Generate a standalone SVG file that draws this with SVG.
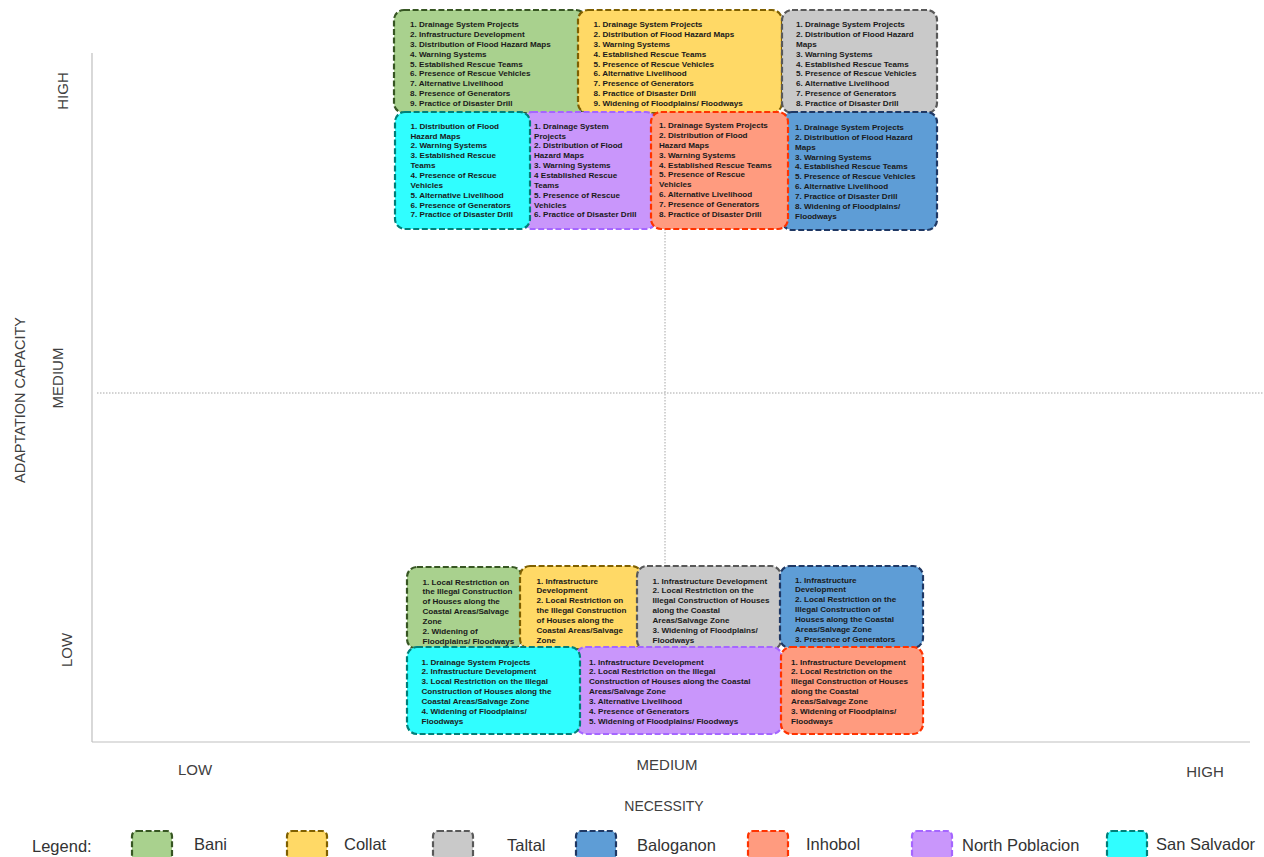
<svg xmlns="http://www.w3.org/2000/svg" width="1264" height="857" viewBox="0 0 1264 857">
<style>
  .box{stroke-width:2.2;stroke-dasharray:6 2.6;}
  .bani{fill:#a9d18e;stroke:#375623;}
  .collat{fill:#ffd966;stroke:#7f6000;}
  .taltal{fill:#c9c9c9;stroke:#595959;}
  .balog{fill:#5e9dd6;stroke:#1f3864;}
  .inhobol{fill:#ff9b7f;stroke:#ff3300;}
  .np{fill:#c996fb;stroke:#a566ff;}
  .ss{fill:#30feff;stroke:#00807a;}
  .t{font-family:"Liberation Sans",Arial,sans-serif;font-weight:bold;font-size:8.1px;fill:#1a1a1a;}
  .ax{font-family:"Liberation Sans",Arial,sans-serif;font-size:15px;fill:#404040;}
  .lg{font-family:"Liberation Sans",Arial,sans-serif;font-size:16.5px;fill:#333333;}
  .axis{stroke:#bfbfbf;stroke-width:1.2;fill:none;}
  .dot{stroke:#a6a6a6;stroke-width:1;stroke-dasharray:1.5 1.5;fill:none;}
</style>

<g id="axes">
  <line class="axis" x1="92" y1="53" x2="92" y2="742"/>
  <line class="axis" x1="92" y1="742" x2="1250" y2="742"/>
  <line class="dot" x1="97" y1="393" x2="1264" y2="393"/>
  <line class="dot" x1="665" y1="112" x2="665" y2="568"/>
  <text class="ax" transform="translate(68,91) rotate(-90)" text-anchor="middle">HIGH</text>
  <text class="ax" transform="translate(63,378) rotate(-90)" text-anchor="middle">MEDIUM</text>
  <text class="ax" transform="translate(72,650) rotate(-90)" text-anchor="middle">LOW</text>
  <text class="ax" transform="translate(25,400) rotate(-90)" text-anchor="middle" style="font-size:14.5px">ADAPTATION CAPACITY</text>
  <text class="ax" x="195" y="775" text-anchor="middle">LOW</text>
  <text class="ax" x="667" y="770" text-anchor="middle">MEDIUM</text>
  <text class="ax" x="1205" y="777" text-anchor="middle">HIGH</text>
  <text class="ax" x="664" y="811" text-anchor="middle" style="font-size:14px">NECESSITY</text>
</g>

<g id="high-bani">
  <rect class="box bani" x="394" y="10" width="192" height="103" rx="10"/>
  <text class="t" x="410" y="27"><tspan x="410" dy="0">1. Drainage System Projects</tspan><tspan x="410" dy="9.88">2. Infrastructure Development</tspan><tspan x="410" dy="9.88">3. Distribution of Flood Hazard Maps</tspan><tspan x="410" dy="9.88">4. Warning Systems</tspan><tspan x="410" dy="9.88">5. Established Rescue Teams</tspan><tspan x="410" dy="9.88">6. Presence of Rescue Vehicles</tspan><tspan x="410" dy="9.88">7. Alternative Livelihood</tspan><tspan x="410" dy="9.88">8. Presence of Generators</tspan><tspan x="410" dy="9.88">9. Practice of Disaster Drill</tspan></text>
</g>
<g id="high-collat">
  <rect class="box collat" x="578" y="10" width="204" height="103" rx="10"/>
  <text class="t" x="593.5" y="27"><tspan x="593.5" dy="0">1. Drainage System Projects</tspan><tspan x="593.5" dy="9.88">2. Distribution of Flood Hazard Maps</tspan><tspan x="593.5" dy="9.88">3. Warning Systems</tspan><tspan x="593.5" dy="9.88">4. Established Rescue Teams</tspan><tspan x="593.5" dy="9.88">5. Presence of Rescue Vehicles</tspan><tspan x="593.5" dy="9.88">6. Alternative Livelihood</tspan><tspan x="593.5" dy="9.88">7. Presence of Generators</tspan><tspan x="593.5" dy="9.88">8. Practice of Disaster Drill</tspan><tspan x="593.5" dy="9.88">9. Widening of Floodplains/ Floodways</tspan></text>
</g>
<g id="high-taltal">
  <rect class="box taltal" x="782" y="10" width="155" height="103" rx="10"/>
  <text class="t" x="796" y="27"><tspan x="796" dy="0">1. Drainage System Projects</tspan><tspan x="796" dy="9.88">2. Distribution of Flood Hazard</tspan><tspan x="796" dy="9.88">Maps</tspan><tspan x="796" dy="9.88">3. Warning Systems</tspan><tspan x="796" dy="9.88">4. Established Rescue Teams</tspan><tspan x="796" dy="9.88">5. Presence of Rescue Vehicles</tspan><tspan x="796" dy="9.88">6. Alternative Livelihood</tspan><tspan x="796" dy="9.88">7. Presence of Generators</tspan><tspan x="796" dy="9.88">8. Practice of Disaster Drill</tspan></text>
</g>

<g id="high-north-poblacion">
  <rect class="box np" x="522" y="112" width="134" height="117" rx="10"/>
  <text class="t" x="534" y="128.7"><tspan x="534" dy="0">1. Drainage System</tspan><tspan x="534" dy="9.85">Projects</tspan><tspan x="534" dy="9.85">2. Distribution of Flood</tspan><tspan x="534" dy="9.85">Hazard Maps</tspan><tspan x="534" dy="9.85">3. Warning Systems</tspan><tspan x="534" dy="9.85">4 Established Rescue</tspan><tspan x="534" dy="9.85">Teams</tspan><tspan x="534" dy="9.85">5. Presence of Rescue</tspan><tspan x="534" dy="9.85">Vehicles</tspan><tspan x="534" dy="9.85">6. Practice of Disaster Drill</tspan></text>
</g>
<g id="high-san-salvador">
  <rect class="box ss" x="395" y="112" width="135" height="117" rx="10"/>
  <text class="t" x="410.5" y="128.7"><tspan x="410.5" dy="0">1. Distribution of Flood</tspan><tspan x="410.5" dy="9.85">Hazard Maps</tspan><tspan x="410.5" dy="9.85">2. Warning Systems</tspan><tspan x="410.5" dy="9.85">3. Established Rescue</tspan><tspan x="410.5" dy="9.85">Teams</tspan><tspan x="410.5" dy="9.85">4. Presence of Rescue</tspan><tspan x="410.5" dy="9.85">Vehicles</tspan><tspan x="410.5" dy="9.85">5. Alternative Livelihood</tspan><tspan x="410.5" dy="9.85">6. Presence of Generators</tspan><tspan x="410.5" dy="9.85">7. Practice of Disaster Drill</tspan></text>
</g>
<g id="high-baloganon">
  <rect class="box balog" x="782" y="112" width="155" height="118" rx="10"/>
  <text class="t" x="795" y="130"><tspan x="795" dy="0">1. Drainage System Projects</tspan><tspan x="795" dy="9.85">2. Distribution of Flood Hazard</tspan><tspan x="795" dy="9.85">Maps</tspan><tspan x="795" dy="9.85">3. Warning Systems</tspan><tspan x="795" dy="9.85">4. Established Rescue Teams</tspan><tspan x="795" dy="9.85">5. Presence of Rescue Vehicles</tspan><tspan x="795" dy="9.85">6. Alternative Livelihood</tspan><tspan x="795" dy="9.85">7. Practice of Disaster Drill</tspan><tspan x="795" dy="9.85">8. Widening of Floodplains/</tspan><tspan x="795" dy="9.85">Floodways</tspan></text>
</g>
<g id="high-inhobol">
  <rect class="box inhobol" x="651" y="112" width="137" height="117" rx="10"/>
  <text class="t" x="659" y="128.2"><tspan x="659" dy="0">1. Drainage System Projects</tspan><tspan x="659" dy="9.85">2. Distribution of Flood</tspan><tspan x="659" dy="9.85">Hazard Maps</tspan><tspan x="659" dy="9.85">3. Warning Systems</tspan><tspan x="659" dy="9.85">4. Established Rescue Teams</tspan><tspan x="659" dy="9.85">5. Presence of Rescue</tspan><tspan x="659" dy="9.85">Vehicles</tspan><tspan x="659" dy="9.85">6. Alternative Livelihood</tspan><tspan x="659" dy="9.85">7. Presence of Generators</tspan><tspan x="659" dy="9.85">8. Practice of Disaster Drill</tspan></text>
</g>

<g id="low-bani">
  <rect class="box bani" x="407" y="567" width="115" height="82" rx="10"/>
  <text class="t" x="422.5" y="584.5"><tspan x="422.5" dy="0">1. Local Restriction on</tspan><tspan x="422.5" dy="9.9">the Illegal Construction</tspan><tspan x="422.5" dy="9.9">of Houses along the</tspan><tspan x="422.5" dy="9.9">Coastal Areas/Salvage</tspan><tspan x="422.5" dy="9.9">Zone</tspan><tspan x="422.5" dy="9.9">2. Widening of</tspan><tspan x="422.5" dy="9.9">Floodplains/ Floodways</tspan></text>
</g>
<g id="low-collat">
  <rect class="box collat" x="520" y="566" width="122" height="83" rx="10"/>
  <text class="t" x="536.5" y="583.5"><tspan x="536.5" dy="0">1. Infrastructure</tspan><tspan x="536.5" dy="9.9">Development</tspan><tspan x="536.5" dy="9.9">2. Local Restriction on</tspan><tspan x="536.5" dy="9.9">the Illegal Construction</tspan><tspan x="536.5" dy="9.9">of Houses along the</tspan><tspan x="536.5" dy="9.9">Coastal Areas/Salvage</tspan><tspan x="536.5" dy="9.9">Zone</tspan></text>
</g>
<g id="low-taltal">
  <rect class="box taltal" x="637" y="566" width="144" height="84" rx="10"/>
  <text class="t" x="652.5" y="583.5"><tspan x="652.5" dy="0">1. Infrastructure Development</tspan><tspan x="652.5" dy="9.9">2. Local Restriction on the</tspan><tspan x="652.5" dy="9.9">Illegal Construction of Houses</tspan><tspan x="652.5" dy="9.9">along the Coastal</tspan><tspan x="652.5" dy="9.9">Areas/Salvage Zone</tspan><tspan x="652.5" dy="9.9">3. Widening of Floodplains/</tspan><tspan x="652.5" dy="9.9">Floodways</tspan></text>
</g>
<g id="low-baloganon">
  <rect class="box balog" x="780" y="566" width="143" height="82" rx="10"/>
  <text class="t" x="795" y="582.5"><tspan x="795" dy="0">1. Infrastructure</tspan><tspan x="795" dy="9.85">Development</tspan><tspan x="795" dy="9.85">2. Local Restriction on the</tspan><tspan x="795" dy="9.85">Illegal Construction of</tspan><tspan x="795" dy="9.85">Houses along the Coastal</tspan><tspan x="795" dy="9.85">Areas/Salvage Zone</tspan><tspan x="795" dy="9.85">3. Presence of Generators</tspan></text>
</g>

<g id="low-north-poblacion">
  <rect class="box np" x="576" y="647" width="206" height="87" rx="10"/>
  <text class="t" x="589" y="664.5"><tspan x="589" dy="0">1. Infrastructure Development</tspan><tspan x="589" dy="9.85">2. Local Restriction on the Illegal</tspan><tspan x="589" dy="9.85">Construction of Houses along the Coastal</tspan><tspan x="589" dy="9.85">Areas/Salvage Zone</tspan><tspan x="589" dy="9.85">3. Alternative Livelihood</tspan><tspan x="589" dy="9.85">4. Presence of Generators</tspan><tspan x="589" dy="9.85">5. Widening of Floodplains/ Floodways</tspan></text>
</g>
<g id="low-san-salvador">
  <rect class="box ss" x="407" y="647" width="173" height="87" rx="10"/>
  <text class="t" x="421.5" y="664.5"><tspan x="421.5" dy="0">1. Drainage System Projects</tspan><tspan x="421.5" dy="9.85">2. Infrastructure Development</tspan><tspan x="421.5" dy="9.85">3. Local Restriction on the Illegal</tspan><tspan x="421.5" dy="9.85">Construction of Houses along the</tspan><tspan x="421.5" dy="9.85">Coastal Areas/Salvage Zone</tspan><tspan x="421.5" dy="9.85">4. Widening of Floodplains/</tspan><tspan x="421.5" dy="9.85">Floodways</tspan></text>
</g>
<g id="low-inhobol">
  <rect class="box inhobol" x="781" y="647" width="142" height="87" rx="10"/>
  <text class="t" x="791" y="664.5"><tspan x="791" dy="0">1. Infrastructure Development</tspan><tspan x="791" dy="9.85">2. Local Restriction on the</tspan><tspan x="791" dy="9.85">Illegal Construction of Houses</tspan><tspan x="791" dy="9.85">along the Coastal</tspan><tspan x="791" dy="9.85">Areas/Salvage Zone</tspan><tspan x="791" dy="9.85">3. Widening of Floodplains/</tspan><tspan x="791" dy="9.85">Floodways</tspan></text>
</g>

<g id="legend">
  <text class="lg" x="32" y="852">Legend:</text>
  <rect class="box bani" x="132" y="831" width="40" height="30" rx="5"/>
  <text class="lg" x="194" y="850">Bani</text>
  <rect class="box collat" x="287" y="831" width="40" height="30" rx="5"/>
  <text class="lg" x="344" y="850">Collat</text>
  <rect class="box taltal" x="433" y="831" width="40" height="30" rx="5"/>
  <text class="lg" x="507" y="851">Taltal</text>
  <rect class="box balog" x="576" y="831" width="40" height="30" rx="5"/>
  <text class="lg" x="637" y="851">Baloganon</text>
  <rect class="box inhobol" x="748" y="831" width="40" height="30" rx="5"/>
  <text class="lg" x="806" y="850">Inhobol</text>
  <rect class="box np" x="912" y="831" width="40" height="30" rx="5"/>
  <text class="lg" x="962" y="851">North Poblacion</text>
  <rect class="box ss" x="1107" y="831" width="40" height="30" rx="5"/>
  <text class="lg" x="1156" y="850">San Salvador</text>
</g>
</svg>
